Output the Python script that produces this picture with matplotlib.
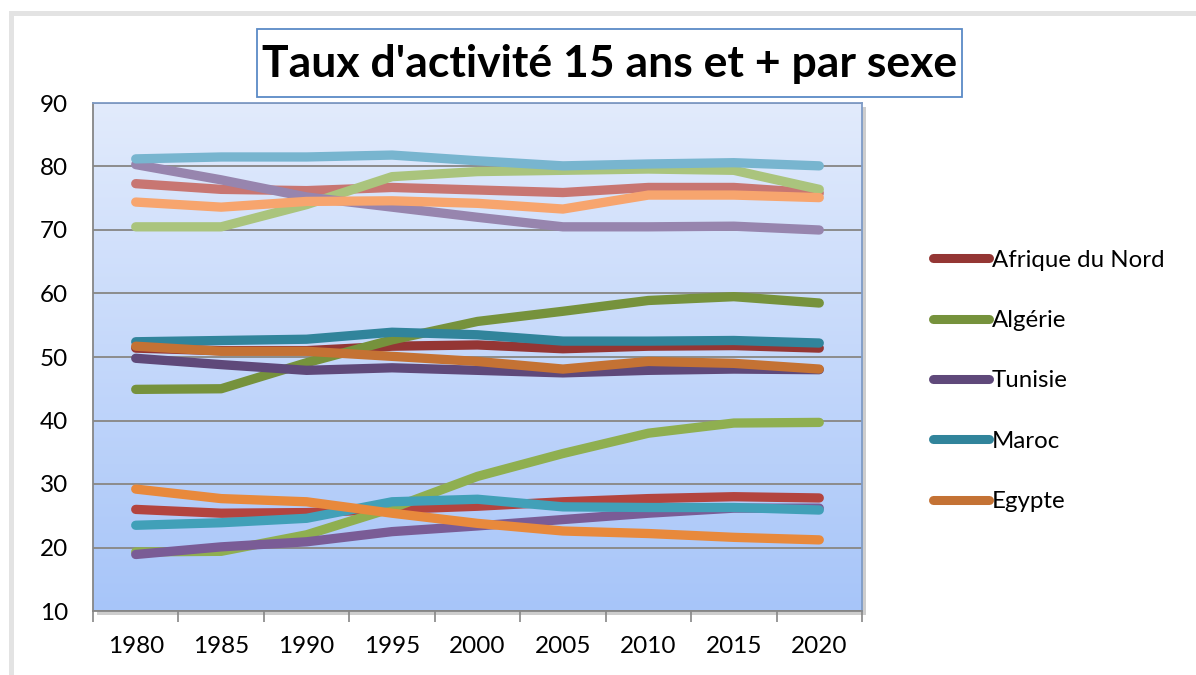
import numpy as np
import matplotlib
matplotlib.use("Agg")
import matplotlib.pyplot as plt
from matplotlib.colors import LinearSegmentedColormap
from matplotlib.patches import Rectangle
from matplotlib.lines import Line2D

plt.rcParams['font.family'] = ['Lato', 'DejaVu Sans']

years = ['1980', '1985', '1990', '1995', '2000', '2005', '2010', '2015', '2020']
countries = ['Afrique du Nord', 'Algérie', 'Tunisie', 'Maroc', 'Egypte']

# ensemble (15 ans et +)
afn_total = [51.4, 51.0, 51.0, 51.7, 51.9, 51.3, 51.7, 51.8, 51.4]
alg_total = [44.9, 45.0, 49.1, 52.7, 55.6, 57.2, 58.9, 59.5, 58.5]
tun_total = [49.8, 48.8, 47.9, 48.3, 47.9, 47.5, 47.9, 48.1, 48.0]
mar_total = [52.4, 52.6, 52.8, 53.9, 53.5, 52.5, 52.5, 52.6, 52.2]
egy_total = [51.7, 50.9, 50.9, 50.1, 49.3, 48.1, 49.3, 49.0, 48.1]

# hommes
afn_male = [77.3, 76.4, 76.2, 76.7, 76.3, 75.9, 76.7, 76.7, 75.8]
alg_male = [70.5, 70.5, 74.0, 78.4, 79.2, 79.4, 79.6, 79.4, 76.4]
tun_male = [80.3, 77.9, 75.2, 73.6, 72.0, 70.5, 70.5, 70.6, 70.0]
mar_male = [81.2, 81.5, 81.5, 81.8, 80.9, 80.1, 80.4, 80.6, 80.1]
egy_male = [74.4, 73.6, 74.5, 74.6, 74.2, 73.3, 75.5, 75.5, 75.1]

# femmes
afn_female = [26.0, 25.4, 25.5, 26.0, 26.5, 27.2, 27.7, 28.0, 27.8]
alg_female = [19.3, 19.4, 22.0, 26.2, 31.2, 34.8, 38.0, 39.6, 39.7]
tun_female = [18.9, 20.1, 20.9, 22.5, 23.4, 24.4, 25.4, 26.2, 26.2]
mar_female = [23.5, 23.9, 24.6, 27.2, 27.6, 26.4, 26.3, 26.3, 25.9]
egy_female = [29.2, 27.7, 27.2, 25.4, 23.8, 22.6, 22.2, 21.6, 21.2]

total_colors = ['#943634', '#76923C', '#5F497A', '#31849B', '#C47234']
female_colors = ['#B3443F', '#8FAF50', '#7A5C96', '#41A0B8', '#E8893C']
male_colors = ['#C87672', '#AAC47D', '#9785AE', '#78B5CF', '#F7A56E']

totals = [afn_total, alg_total, tun_total, mar_total, egy_total]
males = [afn_male, alg_male, tun_male, mar_male, egy_male]
females = [afn_female, alg_female, tun_female, mar_female, egy_female]

W, H = 1196, 675
fig = plt.figure(figsize=(W / 100, H / 100), dpi=100)

# cadre gris autour du graphique
fig.patches.append(Rectangle((9 / W, 1 - 16 / H), 1, 5 / H, transform=fig.transFigure,
                             facecolor='#E3E3E3', edgecolor='none', zorder=-2))
fig.patches.append(Rectangle((9 / W, 0), 5 / W, 1 - 11 / H, transform=fig.transFigure,
                             facecolor='#E3E3E3', edgecolor='none', zorder=-2))

left, right, top, bottom = 93, 862, 103, 611
ax_rect = [left / W, 1 - bottom / H, (right - left) / W, (bottom - top) / H]

# ombre de la zone de traçage
fig.patches.append(Rectangle((ax_rect[0] + 4 / W, ax_rect[1] - 4 / H), ax_rect[2], ax_rect[3],
                             transform=fig.transFigure, facecolor='#CDCDCD', edgecolor='none',
                             zorder=-1))

ax = fig.add_axes(ax_rect)
ax.set_zorder(1)
cmap = LinearSegmentedColormap.from_list('bg', ['#A7C5F9', '#E2EBFC'])
grad = np.linspace(0, 1, 256)[:, None]
ax.imshow(grad, cmap=cmap, extent=[0, 1, 0, 1], origin='lower', aspect='auto',
          transform=ax.transAxes, zorder=0)

x = np.arange(len(years))
lw = 6.7
for i in range(len(countries)):
    ax.plot(x, totals[i], color=total_colors[i], lw=lw, solid_capstyle='round',
            solid_joinstyle='round', zorder=3)
for i in range(len(countries)):
    ax.plot(x, females[i], color=female_colors[i], lw=lw, solid_capstyle='round',
            solid_joinstyle='round', zorder=3)
for i in range(len(countries)):
    ax.plot(x, males[i], color=male_colors[i], lw=lw, solid_capstyle='round',
            solid_joinstyle='round', zorder=3)

ax.set_xlim(-0.5, len(years) - 0.5)
ax.set_ylim(10, 90)
ax.set_yticks(range(10, 91, 10))
ax.grid(axis='y', color='#8C8C8C', lw=1.4, zorder=1)
ax.set_axisbelow(True)

ax.set_xticks(x)
ax.set_xticklabels(years)
ax.set_xticks(np.arange(-0.5, len(years)), minor=True)
ax.tick_params(axis='x', which='major', length=0, pad=18, labelsize=17.5)
ax.tick_params(axis='x', which='minor', length=8, color='#868686', width=1.2)
ax.tick_params(axis='y', length=0, pad=18, labelsize=17.5)

for side in ['top', 'right']:
    ax.spines[side].set_color('#7E9BC6')
for side in ['left', 'bottom']:
    ax.spines[side].set_color('#868686')
for sp in ax.spines.values():
    sp.set_linewidth(1.3)

# titre encadré
fig.patches.append(Rectangle((257 / W, 1 - 97 / H), 705 / W, 68 / H, transform=fig.transFigure,
                             facecolor='white', edgecolor='#5A8AC6', lw=1.3))
fig.text(609.5 / W, 1 - 64 / H, "Taux d'activité 15 ans et + par sexe", ha='center',
         va='center', fontsize=32, fontweight='bold')

handles = [Line2D([0], [0], color=c, lw=6.5, solid_capstyle='round') for c in total_colors]
fig.legend(handles, countries, loc='upper left', bbox_to_anchor=(923 / W, 1 - 240 / H),
           frameon=False, fontsize=17.3, handlelength=2.35, handletextpad=0.12,
           labelspacing=1.64, borderaxespad=0)

fig.savefig('out.png', dpi=100)
